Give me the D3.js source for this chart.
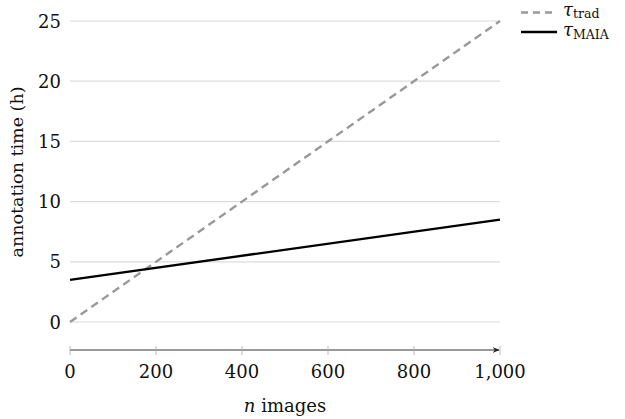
<!DOCTYPE html>
<html><head><meta charset="utf-8">
<script src="https://cdn.jsdelivr.net/npm/d3@7"></script>
<style>body{margin:0;background:#fff}svg{display:block}</style>
</head><body><svg id="c" width="625" height="419" font-family="'DejaVu Serif', 'Liberation Serif', serif"></svg>
<script>
const xTicks = [0, 200, 400, 600, 800, 1000];
const yTicks = [0, 5, 10, 15, 20, 25];
const nImages = [0, 1000];
const tauTrad = [0, 25];
const tauMAIA = [3.5, 8.5];
const seriesNames = ["trad", "MAIA"];

const svg = d3.select("#c");
const x = d3.scaleLinear().domain([0, 1000]).range([70, 500]);
const y = d3.scaleLinear().domain([0, 25]).range([322, 21]);
const FS = 18;

svg.append("g").selectAll("line").data(yTicks).join("line")
  .attr("x1", x(0)).attr("x2", x(1000))
  .attr("y1", d => y(d)).attr("y2", d => y(d))
  .attr("stroke", "#dcdcdc").attr("stroke-width", 1.2);

svg.append("g").selectAll("text").data(yTicks).join("text")
  .attr("x", 61).attr("y", d => y(d) + 6.5)
  .attr("text-anchor", "end").attr("font-size", FS).attr("fill", "#111")
  .text(d => d);

const axY = 350;
svg.append("defs").append("marker").attr("id", "arr")
  .attr("viewBox", "0 0 10 10").attr("refX", 9).attr("refY", 5)
  .attr("markerWidth", 7).attr("markerHeight", 7).attr("orient", "auto")
  .attr("markerUnits", "userSpaceOnUse")
  .append("path").attr("d", "M0,1 L10,5 L0,9 L3,5 Z").attr("fill", "#222");
svg.append("line").attr("x1", x(0)).attr("x2", x(1000) - 1)
  .attr("y1", axY).attr("y2", axY).attr("stroke", "#777").attr("stroke-width", 1.4)
  .attr("marker-end", "url(#arr)");
svg.append("g").selectAll("line").data(xTicks).join("line")
  .attr("x1", d => x(d)).attr("x2", d => x(d))
  .attr("y1", axY - 4).attr("y2", axY + 5)
  .attr("stroke", "#aaa").attr("stroke-width", 0.8);
svg.append("g").selectAll("text").data(xTicks).join("text")
  .attr("x", d => x(d)).attr("y", 378)
  .attr("text-anchor", "middle").attr("font-size", FS).attr("fill", "#111")
  .text(d => d3.format(",")(d));

svg.append("text").attr("x", x(500)).attr("y", 412).attr("text-anchor", "middle")
  .attr("font-size", FS).attr("fill", "#111")
  .call(t => { t.append("tspan").attr("font-style", "italic").text("n"); t.append("tspan").text(" images"); });
svg.append("text").attr("transform", `translate(23,172) rotate(-90)`)
  .attr("text-anchor", "middle").attr("font-size", 17.5).attr("fill", "#111").text("annotation time (h)");

const line = d3.line().x(d => x(d[0])).y(d => y(d[1]));
svg.append("path").datum(nImages.map((n, i) => [n, tauTrad[i]])).attr("d", line)
  .attr("fill", "none").attr("stroke", "#999").attr("stroke-width", 2.4)
  .attr("stroke-dasharray", "8,5");
svg.append("path").datum(nImages.map((n, i) => [n, tauMAIA[i]])).attr("d", line)
  .attr("fill", "none").attr("stroke", "#000").attr("stroke-width", 2.4);

const lg = svg.append("g");
const lgItems = [{name: seriesNames[0], dash: "7,5", color: "#999", w: 2.4, yy: 12.5, ty: 15.5},
                 {name: seriesNames[1], dash: null, color: "#000", w: 2.4, yy: 32, ty: 36}];
lgItems.forEach(it => {
  lg.append("line").attr("x1", 521).attr("x2", 557).attr("y1", it.yy).attr("y2", it.yy)
    .attr("stroke", it.color).attr("stroke-width", it.w).attr("stroke-dasharray", it.dash);
  const t = lg.append("text").attr("x", 563).attr("y", it.ty).attr("font-size", FS).attr("fill", "#111");
  t.append("tspan").attr("font-style", "italic").text("τ");
  t.append("tspan").attr("font-size", 12.5).attr("dy", 2.5).text(it.name);
});
</script></body></html>
